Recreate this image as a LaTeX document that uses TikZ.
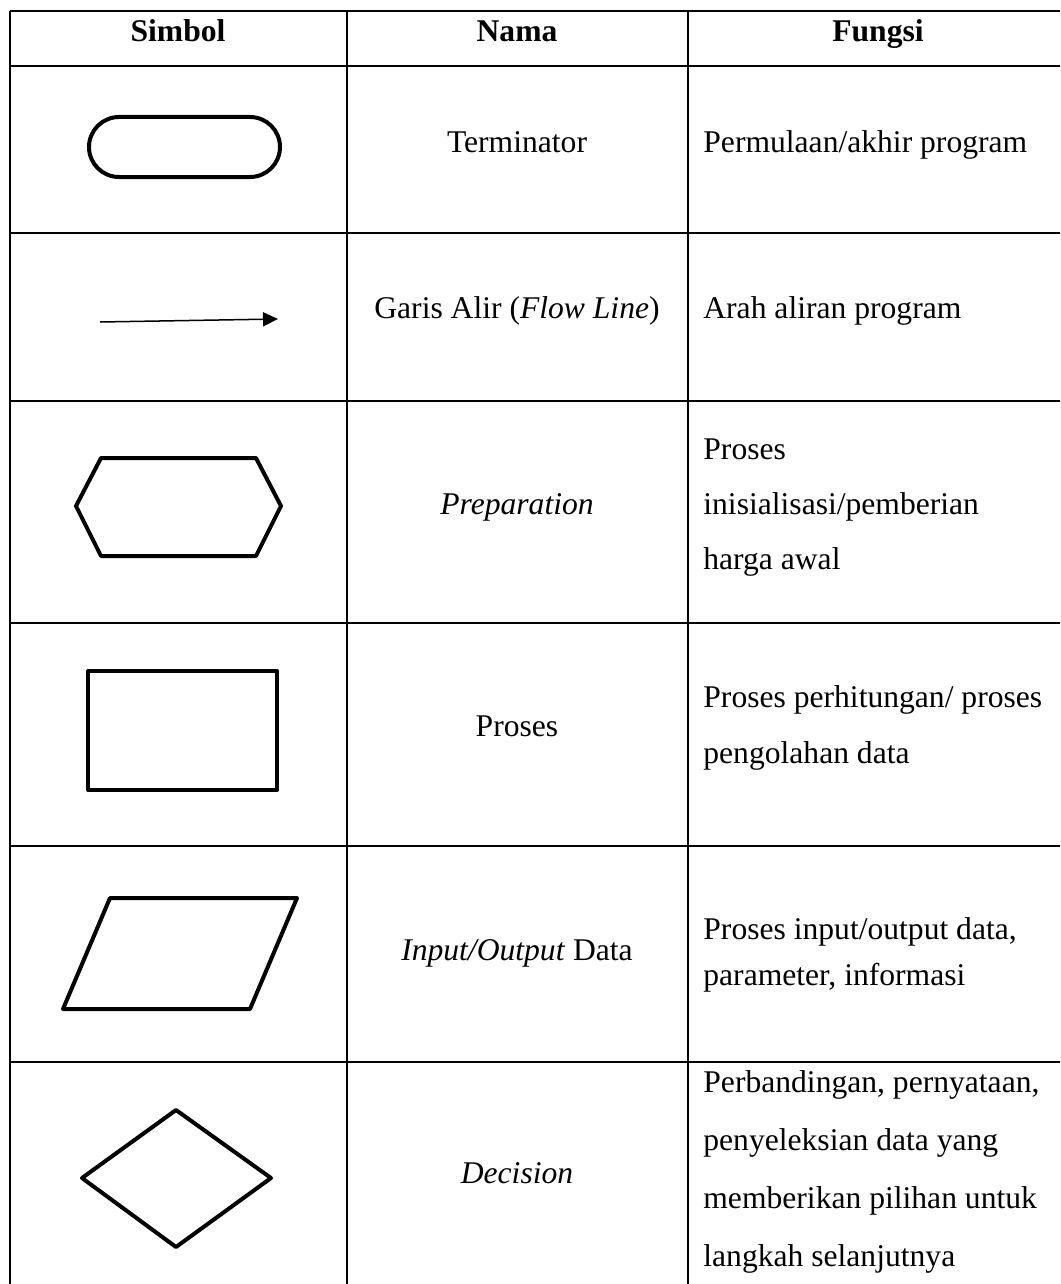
\documentclass[tikz,border=0pt]{standalone}
\usepackage{fontspec}
\setmainfont{Liberation Serif}
\usetikzlibrary{arrows.meta}

\begin{document}
\begin{tikzpicture}[x=0.5pt, y=-0.5pt,
    grid/.style={line width=0.8pt},
    symbol/.style={line width=2pt, line join=round},
    cell/.style={inner sep=0pt, font=\fontsize{15.8}{19}\selectfont},
    head/.style={cell, anchor=base, font=\fontsize{15.8}{19}\selectfont\bfseries},
    nama/.style={cell, anchor=base},
    fungsi/.style={cell, anchor=base west}]

    % Fix the picture size
    \useasboundingbox (0,0) rectangle (1060,1284);

    % Draw the table lines
    \foreach \y in {11,66,233,401,623,846,1062}
        \draw[grid] (10,\y) -- (1060,\y);
    \foreach \x in {10,347,688}
        \draw[grid] (\x,11) -- (\x,1284);

    % Header row
    \node[head] (hsimbol) at (178,42) {Simbol};
    \node[head] (hnama) at (517,42) {Nama};
    \node[head] (hfungsi) at (878,42) {Fungsi};

    % Terminator symbol
    \draw[symbol, rounded corners=15pt] (89,117) rectangle (280,177);

    % Flow line symbol
    \coordinate (flowstart) at (100,322);
    \coordinate (flowend) at (278,319);
    \draw[line width=0.75pt, -{Triangle[length=7.5pt,width=7pt]}] (flowstart) -- (flowend);

    % Preparation symbol
    \draw[symbol] (76,506) -- (101,458) -- (256,458) -- (281,506) -- (256,556) -- (101,556) -- cycle;

    % Proses symbol
    \draw[symbol] (88,671) rectangle (277,790);

    % Input/Output symbol
    \draw[symbol] (110,898) -- (297,898) -- (250,1009) -- (63,1009) -- cycle;

    % Decision symbol
    \draw[symbol] (176,1110) -- (271,1178) -- (176,1247) -- (82,1178) -- cycle;

    % Names
    \node[nama] (nterm) at (517,152) {Terminator};
    \node[nama] (nflow) at (517,318) {Garis Alir (\textit{Flow Line})};
    \node[nama] (nprep) at (517,514) {\textit{Preparation}};
    \node[nama] (nproc) at (517,736) {Proses};
    \node[nama] (nio) at (517,960) {\textit{Input/Output} Data};
    \node[nama] (ndec) at (517,1183) {\textit{Decision}};

    % Functions
    \node[fungsi] (fterm) at (703,153) {Permulaan/akhir program};
    \node[fungsi] (fflow) at (703,318) {Arah aliran program};
    \foreach \txt [count=\i from 0] in {Proses, inisialisasi/pemberian, harga awal}
        \node[fungsi] (fprep\i) at (703,459+55*\i) {\txt};
    \foreach \txt [count=\i from 0] in {Proses perhitungan/ proses, pengolahan data}
        \node[fungsi] (fproc\i) at (703,707+56*\i) {\txt};
    \foreach \txt [count=\i from 0] in {{Proses input/output data,}, {parameter, informasi}}
        \node[fungsi] (fio\i) at (703,939+46*\i) {\txt};
    \foreach \txt [count=\i from 0] in {{Perbandingan, pernyataan,}, penyeleksian data yang, memberikan pilihan untuk, langkah selanjutnya}
        \node[fungsi] (fdec\i) at (703,1092+58*\i) {\txt};

\end{tikzpicture}
\end{document}
